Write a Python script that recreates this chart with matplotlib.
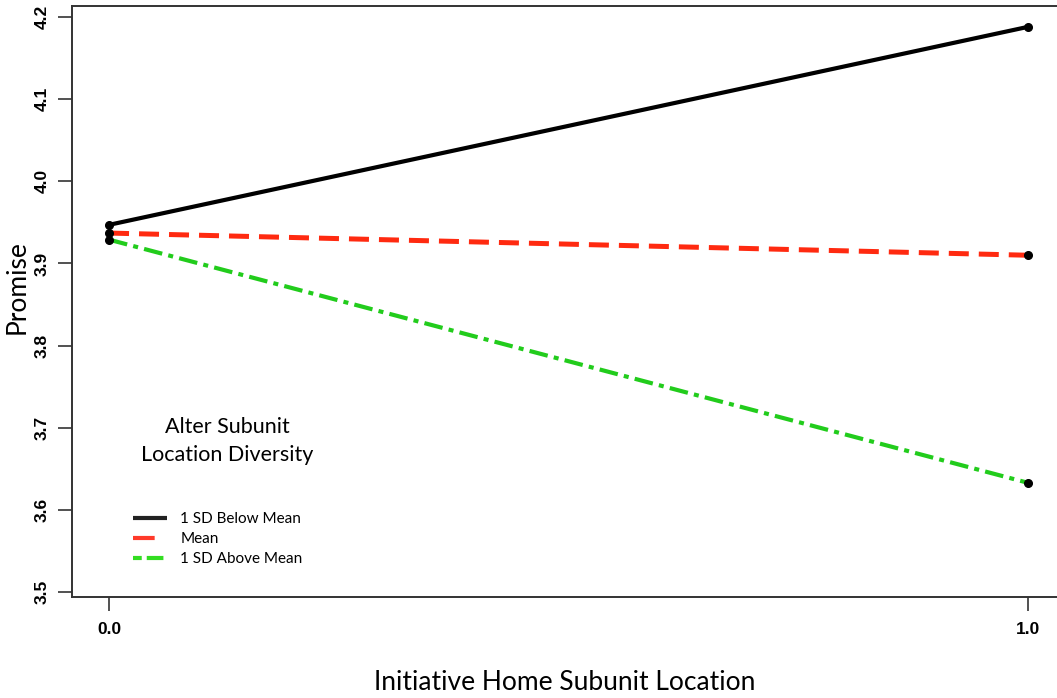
import matplotlib
matplotlib.use("Agg")
import matplotlib.pyplot as plt

# simple slopes: Promise vs. initiative home subunit location
x = [0.0, 1.0]
below_mean = [3.947, 4.188]
at_mean = [3.937, 3.910]
above_mean = [3.929, 3.633]

series_labels = ["1 SD Below Mean", "Mean", "1 SD Above Mean"]
y_ticks = [3.5, 3.6, 3.7, 3.8, 3.9, 4.0, 4.1, 4.2]
x_ticks = [0.0, 1.0]

fig = plt.figure(figsize=(10.57, 6.98), dpi=100)
ax = fig.add_axes([72 / 1057, 1 - 597 / 698, 985 / 1057, 591 / 698])

ax.plot(x, below_mean, color="black", lw=3.0, ls="-", solid_capstyle="butt")
ax.plot(x, at_mean, color="#ff2a10", lw=3.6, ls=(0, (4, 2)), dash_capstyle="butt")
ax.plot(x, above_mean, color="#22cc1c", lw=3.0, ls=(0, (4.5, 1.5, 1.2, 1.5)), dash_capstyle="butt")
for ys in (below_mean, at_mean, above_mean):
    ax.plot(x, ys, ls="none", marker="o", ms=5.5, color="black")

ax.set_xlim(-0.0403, 1.0316)
ax.set_ylim(3.494, 4.2134)
ax.set_xticks(x_ticks)
ax.set_xticklabels(["0.0", "1.0"], fontsize=12.5, fontweight="bold", family="Liberation Sans")
ax.set_yticks(y_ticks)
ax.set_yticklabels([f"{v:.1f}" for v in y_ticks], fontsize=12.5, fontweight="bold",
                   family="Liberation Sans", rotation=90, va="center")
ax.tick_params(axis="both", length=10, width=1.2, color="#333333")
ax.tick_params(axis="x", pad=8)
ax.tick_params(axis="y", pad=6)
for side in ("left", "top", "bottom"):
    ax.spines[side].set_linewidth(1.4)
    ax.spines[side].set_color("#333333")
ax.spines["right"].set_visible(False)

fig.text(565 / 1057, 1 - 682 / 698, "Initiative Home Subunit Location",
         fontsize=19, family="Lato", ha="center", va="center")
fig.text(17 / 1057, 1 - 287 / 698, "Promise", fontsize=19, family="Lato",
         rotation=90, ha="center", va="center")

ax.text(227 / 1057, 1 - 441 / 698, "Alter Subunit\nLocation Diversity", transform=fig.transFigure,
        fontsize=15.5, family="Lato", ha="center", va="center", linespacing=1.5)

handles = [
    plt.Line2D([], [], color="#222222", lw=3, solid_capstyle="butt"),
    plt.Line2D([], [], color="#ff3a2a", lw=3, ls=(0, (5.2, 10)), dash_capstyle="butt"),
    plt.Line2D([], [], color="#33dd22", lw=3, ls=(0, (2.1, 1.2, 4, 10)), dash_capstyle="butt"),
]
ax.legend(handles, series_labels, loc="upper left", bbox_to_anchor=(133 / 1057, 1 - 512 / 698),
          bbox_transform=fig.transFigure, frameon=False, handlelength=2.2, handletextpad=0.9,
          labelspacing=0.4, prop={"family": "Lato", "size": 11}, borderaxespad=0, borderpad=0)

fig.savefig("out.png", dpi=100)
